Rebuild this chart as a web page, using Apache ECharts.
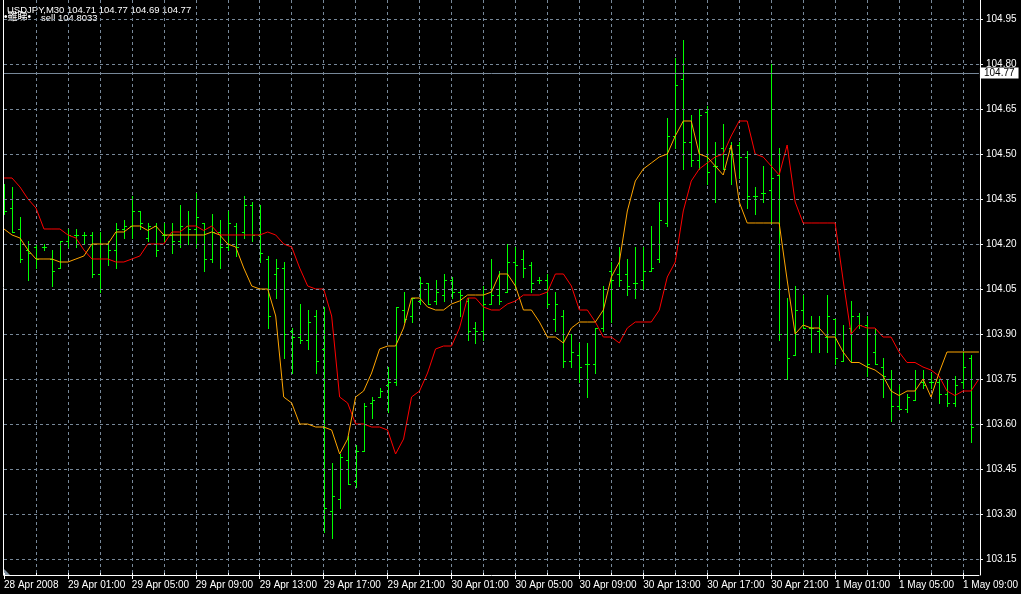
<!DOCTYPE html>
<html>
<head>
<meta charset="utf-8">
<script src="https://cdn.jsdelivr.net/npm/echarts@6/dist/echarts.min.js"></script>
<style>
html,body{margin:0;padding:0;background:#000;}
#chart{width:1021px;height:594px;}
</style>
</head>
<body>
<div id="chart"></div>
<script>
// ---- data (USDJPY M30, 28 Apr 2008 21:00 .. 1 May 2008 10:00) ----
const tickLabels = ['28 Apr 2008','29 Apr 01:00','29 Apr 05:00','29 Apr 09:00','29 Apr 13:00','29 Apr 17:00','29 Apr 21:00','30 Apr 01:00','30 Apr 05:00','30 Apr 09:00','30 Apr 13:00','30 Apr 17:00','30 Apr 21:00','1 May 01:00','1 May 05:00','1 May 09:00'];
const priceTicks = [103.15,103.30,103.45,103.60,103.75,103.90,104.05,104.20,104.35,104.50,104.65,104.80,104.95];
const lastPrice = 104.77;

const openP = [104.37,104.32,104.25,104.18,104.19,104.19,104.15,104.12,104.21,104.23,
104.23,104.23,104.10,104.20,104.18,104.25,104.26,104.31,104.22,104.26,
104.23,104.23,104.21,104.26,104.25,104.27,104.15,104.24,104.19,104.26,
104.24,104.33,104.23,104.15,104.10,104.12,103.91,103.89,103.88,103.96,
103.85,103.31,103.35,103.48,103.41,103.51,103.67,103.69,103.73,103.74,
103.98,103.96,104.01,104.07,104.01,104.03,104.08,104.04,104.01,103.92,
103.91,104.00,104.03,104.04,104.14,104.15,104.13,104.08,104.08,103.95,
103.96,103.81,103.83,103.80,103.80,103.92,104.11,104.10,104.10,104.07,
104.08,104.11,104.15,104.27,104.56,104.75,104.54,104.48,104.64,104.46,
104.52,104.52,104.53,104.49,104.36,104.37,104.38,104.43,103.90,103.83,
103.98,103.92,103.91,103.89,103.95,103.81,103.92,103.96,103.93,103.84,
103.79,103.75,103.66,103.65,103.68,103.74,103.74,103.74,103.70,103.67,
103.74,103.82,103.60];
const highP = [104.40,104.39,104.29,104.21,104.20,104.20,104.18,104.21,104.25,104.25,
104.24,104.24,104.24,104.21,104.27,104.28,104.36,104.31,104.27,104.27,
104.27,104.27,104.33,104.31,104.37,104.27,104.30,104.28,104.31,104.27,
104.36,104.34,104.33,104.16,104.15,104.14,103.92,104.00,103.98,103.98,
103.99,103.47,103.50,103.56,103.53,103.67,103.69,103.72,103.79,103.99,
104.04,104.02,104.09,104.07,104.08,104.10,104.09,104.05,104.02,103.94,
104.06,104.15,104.11,104.20,104.19,104.18,104.14,104.09,104.10,104.04,
103.98,103.90,103.87,103.87,103.92,104.06,104.14,104.19,104.15,104.19,
104.19,104.26,104.34,104.62,104.82,104.88,104.63,104.65,104.66,104.54,
104.60,104.54,104.54,104.51,104.39,104.46,104.80,104.52,104.02,104.06,
104.03,103.96,103.96,104.03,103.95,103.93,104.01,103.97,103.96,103.92,
103.82,103.78,103.73,103.70,103.78,103.78,103.77,103.75,103.75,103.76,
103.84,103.83,104.00];
const lowP = [104.30,104.24,104.14,104.08,104.12,104.18,104.06,104.12,104.19,104.19,
104.20,104.09,104.04,104.13,104.12,104.22,104.22,104.25,104.21,104.16,
104.21,104.17,104.19,104.20,104.19,104.11,104.14,104.12,104.18,104.16,
104.22,104.21,104.14,103.92,104.02,103.82,103.77,103.87,103.85,103.77,
103.24,103.22,103.32,103.40,103.39,103.51,103.62,103.69,103.64,103.73,
103.94,103.94,104.00,104.00,104.00,104.01,104.02,103.96,103.88,103.87,
103.88,104.00,104.00,104.04,104.05,104.09,104.04,104.07,103.99,103.91,
103.79,103.79,103.74,103.69,103.77,103.91,103.94,104.06,104.03,104.02,
104.05,104.11,104.14,104.26,104.52,104.45,104.46,104.45,104.40,104.34,
104.45,104.40,104.42,104.32,104.30,104.34,104.27,103.88,103.75,103.83,
103.92,103.84,103.84,103.84,103.80,103.81,103.81,103.92,103.76,103.80,
103.69,103.61,103.65,103.64,103.68,103.72,103.72,103.67,103.66,103.66,
103.72,103.54,103.59];
const closeP = [104.31,104.24,104.15,104.17,104.15,104.19,104.11,104.21,104.23,104.23,
104.23,104.10,104.20,104.18,104.25,104.26,104.31,104.27,104.26,104.18,
104.23,104.21,104.26,104.25,104.29,104.15,104.24,104.19,104.27,104.19,
104.33,104.23,104.17,103.96,104.12,103.90,103.89,103.88,103.94,103.81,
103.32,103.36,103.49,103.40,103.51,103.66,103.68,103.71,103.74,103.99,
103.95,104.02,104.07,104.00,104.04,104.08,104.04,104.03,103.91,103.91,
104.00,104.03,104.01,104.14,104.13,104.12,104.07,104.08,104.00,104.00,
103.81,103.84,103.79,103.80,103.92,104.05,104.08,104.08,104.06,104.07,
104.11,104.12,104.28,104.56,104.73,104.54,104.48,104.63,104.44,104.46,
104.45,104.50,104.49,104.36,104.36,104.37,104.42,103.90,103.82,103.98,
103.92,103.92,103.90,103.96,103.82,103.90,103.96,103.93,103.80,103.80,
103.76,103.66,103.65,103.69,103.75,103.73,103.74,103.70,103.67,103.73,
103.79,103.59,103.75];
// orange line
const fastLine = [104.25,104.23,104.22,104.18,104.15,104.15,104.15,104.14,104.14,104.15,
104.16,104.20,104.20,104.20,104.24,104.24,104.26,104.26,104.245,104.26,
104.23,104.23,104.23,104.23,104.23,104.23,104.24,104.23,104.20,104.19,
104.12,104.06,104.05,104.05,103.96,103.69,103.67,103.60,103.60,103.59,
103.59,103.58,103.50,103.55,103.69,103.71,103.77,103.85,103.86,103.86,
103.92,104.02,104.02,103.99,103.98,103.98,104.00,104.01,104.03,104.03,
104.03,104.04,104.10,104.10,104.06,103.98,103.98,103.94,103.89,103.89,
103.87,103.92,103.94,103.94,103.94,103.98,104.09,104.14,104.31,104.41,
104.45,104.47,104.49,104.50,104.56,104.61,104.61,104.50,104.49,104.46,
104.43,104.53,104.34,104.27,104.27,104.27,104.27,104.27,104.08,103.90,
103.93,103.92,103.92,103.89,103.89,103.84,103.805,103.805,103.79,103.78,
103.76,103.71,103.695,103.71,103.71,103.75,103.69,103.77,103.84,103.84,
103.84,103.84,103.84];
// red line
const slowLine = [104.42,104.42,104.39,104.35,104.32,104.25,104.25,104.25,104.23,104.22,
104.18,104.15,104.15,104.15,104.14,104.14,104.15,104.16,104.20,104.20,
104.20,104.24,104.24,104.26,104.26,104.245,104.26,104.23,104.23,104.23,
104.23,104.23,104.23,104.24,104.23,104.20,104.19,104.12,104.06,104.05,
104.05,103.96,103.69,103.67,103.60,103.60,103.59,103.59,103.58,103.50,
103.55,103.69,103.71,103.77,103.85,103.86,103.86,103.92,104.02,104.02,
103.99,103.98,103.98,104.00,104.01,104.03,104.03,104.03,104.04,104.10,
104.10,104.06,103.98,103.98,103.94,103.89,103.89,103.87,103.92,103.94,
103.94,103.94,103.98,104.09,104.14,104.31,104.41,104.45,104.47,104.49,
104.50,104.56,104.61,104.61,104.50,104.49,104.46,104.43,104.53,104.34,
104.27,104.27,104.27,104.27,104.27,104.08,103.90,103.93,103.92,103.92,
103.89,103.89,103.84,103.805,103.805,103.79,103.78,103.76,103.71,103.695,
103.71,103.71,103.75];

// ---- chart ----
const cats = openP.map((_, i) => String(i));
const ohlc = openP.map((o, i) => [i, o, highP[i], lowP[i], closeP[i]]);
const Y_MIN = 103.09667, Y_MAX = 105.01333;
const FONT = '"Liberation Sans", Arial, sans-serif';
const GRID_COLOR = '#778899';
const BAR_COLOR = '#00ff00';

const chart = echarts.init(document.getElementById('chart'), null, {renderer: 'canvas'});

function renderBar(params, api) {
  const idx = api.value(0);
  const h = api.coord([idx, api.value(2)]);
  const l = api.coord([idx, api.value(3)]);
  const o = api.coord([idx, api.value(1)]);
  const c = api.coord([idx, api.value(4)]);
  const x = Math.round(h[0]);
  const yh = Math.round(h[1]);
  const yl = Math.round(l[1]);
  const st = {fill: BAR_COLOR, stroke: null, opacity: 1};
  return {
    type: 'group',
    children: [
      {type: 'rect', shape: {x: x, y: yh, width: 1, height: Math.max(1, yl - yh + 1)}, style: st},
      {type: 'rect', shape: {x: x - 2, y: Math.round(o[1]), width: 2, height: 1}, style: st},
      {type: 'rect', shape: {x: x + 1, y: Math.round(c[1]), width: 2, height: 1}, style: st}
    ]
  };
}

const option = {
  backgroundColor: '#000000',
  animation: false,
  grid: {left: 4, top: 0, width: 976, height: 575, containLabel: false},
  xAxis: [{
    type: 'category', data: cats, boundaryGap: false, position: 'bottom',
    axisLine: {show: true, lineStyle: {color: '#ffffff', width: 1}},
    axisTick: {show: true, interval: (i) => i % 8 === 0, length: 4, lineStyle: {color: '#ffffff'}},
    axisLabel: {show: true, interval: (i) => i % 8 === 0, formatter: (v, i) => tickLabels[i / 8] || '',
      color: '#ffffff', fontFamily: FONT, fontSize: 10, align: 'left', margin: 5, hideOverlap: false},
    splitLine: {show: true, interval: (i) => i > 0 && i % 4 === 0, lineStyle: {color: GRID_COLOR, type: [3, 3], width: 1}}
  }, {
    type: 'category', data: cats, boundaryGap: false, position: 'bottom',
    axisLine: {show: false},
    axisTick: {show: true, inside: true, interval: (i) => i % 4 === 0, length: 2, lineStyle: {color: '#ffffff'}},
    axisLabel: {show: false}, splitLine: {show: false}
  }],
  yAxis: [{
    type: 'value', position: 'right', offset: 1, min: Y_MIN, max: Y_MAX, scale: true,
    axisLine: {show: true, lineStyle: {color: '#ffffff', width: 1}},
    axisTick: {show: true, length: 3, customValues: priceTicks, lineStyle: {color: '#ffffff'}},
    axisLabel: {show: true, customValues: priceTicks, formatter: (v) => v.toFixed(2),
      color: '#ffffff', fontFamily: FONT, fontSize: 10, margin: 6},
    splitLine: {show: false}
  }, {
    type: 'value', position: 'left', offset: 1, min: Y_MIN, max: Y_MAX, scale: true,
    axisLine: {show: true, lineStyle: {color: '#ffffff', width: 1}},
    axisTick: {show: false}, axisLabel: {show: false}, splitLine: {show: false}
  }],
  series: [{
    name: 'grid', type: 'line', data: [], z: 1, silent: true,
    markLine: {
      silent: true, symbol: ['none', 'none'], animation: false,
      label: {show: false},
      lineStyle: {color: GRID_COLOR, type: [3, 3], width: 1},
      data: priceTicks.map(v => ({yAxis: v}))
    }
  }, {
    name: 'OHLC', type: 'custom', renderItem: renderBar, data: ohlc, z: 3, silent: true,
    encode: {x: 0, y: [1, 2, 3, 4]}, clip: true,
    itemStyle: {color: BAR_COLOR, opacity: 1},
    emphasis: {disabled: true}
  }, {
    name: 'slow', type: 'line', data: slowLine, showSymbol: false, symbol: 'none', z: 4,
    lineStyle: {color: '#ff0000', width: 1}, silent: true
  }, {
    name: 'fast', type: 'line', data: fastLine, showSymbol: false, symbol: 'none', z: 5,
    lineStyle: {color: '#ffa500', width: 1}, silent: true
  }, {
    name: 'price', type: 'line', data: [], z: 6, silent: true,
    markLine: {
      silent: true, symbol: ['none', 'none'], animation: false,
      lineStyle: {color: GRID_COLOR, type: 'solid', width: 1},
      label: {show: true, position: 'end', formatter: lastPrice.toFixed(2), distance: 1,
        backgroundColor: '#ffffff', color: '#000000', fontFamily: FONT, fontSize: 10, padding: [1, 4, 0, 4]},
      data: [{yAxis: lastPrice}]
    }
  }],
  graphic: [
    {type: 'text', left: 7, top: 5, style: {text: 'USDJPY,M30 104.71 104.77 104.69 104.77', fill: '#ffffff', font: '9.5px ' + FONT}},
    {type: 'text', left: 4, top: 12, style: {text: '\u2022雖睇\u2022', fill: '#ffffff', font: '10px ' + FONT + ', "Noto Sans CJK JP"'}},
    {type: 'text', left: 41, top: 13, style: {text: 'sell 104.8033', fill: '#ffffff', font: '9.5px ' + FONT}},
    {type: 'polygon', shape: {points: [[4, 569], [4, 575], [10, 575]]}, style: {fill: '#8090a0'}}
  ]
};
chart.setOption(option);
</script>
</body>
</html>
